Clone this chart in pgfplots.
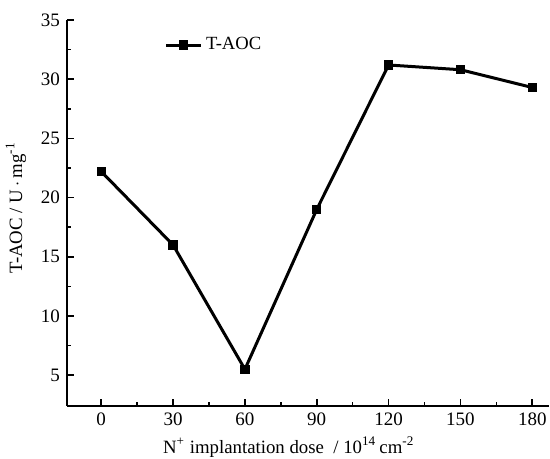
\documentclass[border=0pt]{standalone}
\usepackage{fontspec}
\setmainfont{Liberation Serif}
\usepackage{pgfplots}
\pgfplotsset{compat=1.18}
\begin{document}
\begin{tikzpicture}
\begin{axis}[
  name=ax, at={(0,0)}, anchor=south west,
  scale only axis, width=241pt, height=193pt,
  xmin=-14.3, xmax=187, ymin=2.4, ymax=35,
  axis lines*=left, axis line style={line width=1pt},
  tick align=inside, major tick length=3.5pt, minor tick length=2pt,
  every tick/.style={line width=0.8pt, black},
  xtick={0,30,60,90,120,150,180}, ytick={5,10,15,20,25,30,35},
  minor x tick num=1, minor y tick num=1,
  /pgf/number format/assume math mode=true,
  tick label style={font=\fontsize{9.5}{10}\selectfont},
  label style={font=\fontsize{9.4}{10}\selectfont},
  xlabel={N\textsuperscript{+} implantation dose\ \ / 10\textsuperscript{14}\,cm\textsuperscript{-2}},
  ylabel={T-AOC / U\,$\cdot$\,mg\textsuperscript{-1}},
  x label style={at={(axis description cs:0.46,0)}, anchor=north, yshift=-12pt},
  y label style={at={(axis description cs:-0.07,0.513)}, anchor=south},
  legend style={draw=none, fill=none, at={(axis description cs:0.19,0.935)}, anchor=west, font=\fontsize{9.3}{10}\selectfont},
]
\addplot[black, line width=1.5pt, mark=square*, mark size=1.6pt, mark options={solid}] coordinates {
(0,22.2) (30,16.0) (60,5.5) (90,19.0) (120,31.2) (150,30.8) (180,29.3)};
\addlegendentry{T-AOC}
\end{axis}
\pgfresetboundingbox
\path (-33.5pt,-26.5pt) rectangle (241.5pt,203pt);
\end{tikzpicture}
\end{document}
